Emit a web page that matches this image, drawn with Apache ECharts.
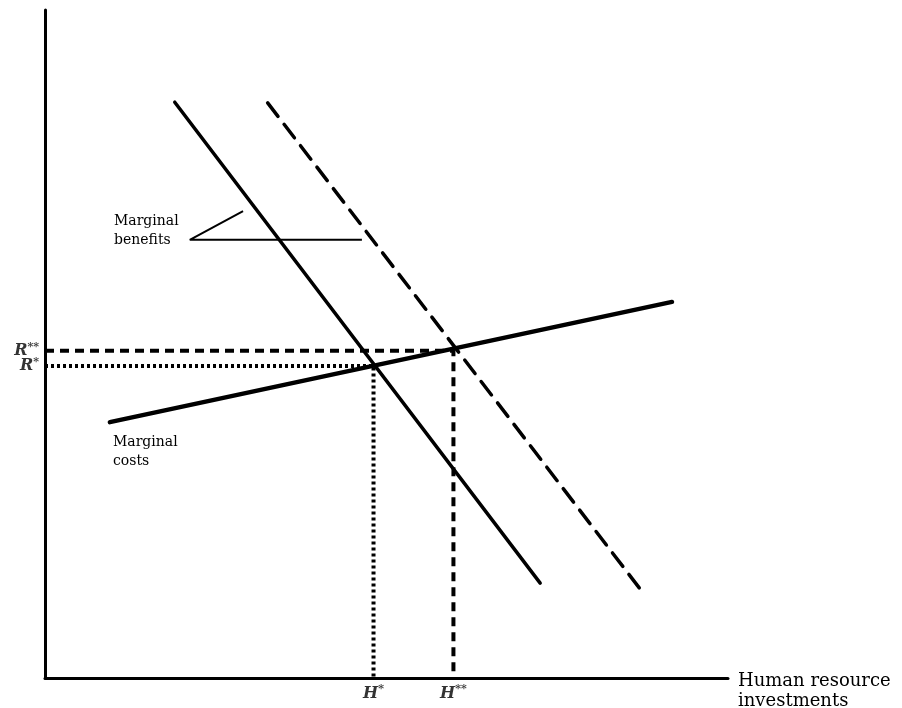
<!DOCTYPE html>
<html>
<head>
<meta charset="utf-8">
<script src="https://cdn.jsdelivr.net/npm/echarts@6/dist/echarts.min.js"></script>
<style>html,body{margin:0;padding:0;background:#fff;}#c{width:902px;height:708px;}</style>
</head>
<body>
<div id="c"></div>
<script>
// Data (chart units: both axes 0..100)
const marginalBenefits = [[19.0, 86.2], [72.5, 14.2]];
const marginalBenefitsShifted = [[32.6, 86.1], [87.6, 12.7]];
const marginalCosts = [[9.5, 38.3], [91.8, 56.3]];
const hStar = 48.1, hStarStar = 59.8;
const rStar = 46.7, rStarStar = 49.0;
const pointerA = [[29.0, 69.9], [21.2, 65.6], [46.4, 65.6]];
const xTickLabels = ['H*', 'H**'];
const yTickLabels = ['R*', 'R**'];

const FONT = 'DejaVu Serif';
const richTick = {
  m: { fontFamily: FONT, fontStyle: 'italic', fontWeight: 'bold', fontSize: 16, color: '#000' },
  s: { fontFamily: FONT, fontWeight: 'bold', fontSize: 11, color: '#000', padding: [0, 0, 8, 0] }
};
function tickText(t) {
  return '{m|' + t[0] + '}{s|' + t.slice(1) + '}';
}

const chart = echarts.init(document.getElementById('c'));
const option = {
  animation: false,
  backgroundColor: '#fff',
  grid: { left: 45, right: 174, top: 10, bottom: 30 },
  xAxis: {
    type: 'value', min: 0, max: 100,
    axisLine: { show: true, lineStyle: { color: '#000', width: 3 } },
    axisTick: { show: false }, axisLabel: { show: false }, splitLine: { show: false }
  },
  yAxis: {
    type: 'value', min: 0, max: 100,
    axisLine: { show: true, lineStyle: { color: '#000', width: 3 } },
    axisTick: { show: false }, axisLabel: { show: false }, splitLine: { show: false }
  },
  series: [
    { type: 'line', data: marginalBenefits, symbol: 'none',
      lineStyle: { color: '#000', width: 3.5, cap: 'round' } },
    { type: 'line', data: marginalBenefitsShifted, symbol: 'none',
      lineStyle: { color: '#000', width: 3.5, type: [17, 10], cap: 'round' } },
    { type: 'line', data: marginalCosts, symbol: 'none',
      lineStyle: { color: '#000', width: 4.5, cap: 'round' } },
    { type: 'line', data: [[0, rStarStar], [hStarStar, rStarStar], [hStarStar, 0]], symbol: 'none',
      lineStyle: { color: '#000', width: 4, type: [9, 6] } },
    { type: 'line', data: [[0, rStar], [hStar, rStar], [hStar, 0]], symbol: 'none',
      lineStyle: { color: '#000', width: 4, type: [3, 3] } },
    { type: 'line', data: pointerA, symbol: 'none',
      lineStyle: { color: '#000', width: 2 } },
    { type: 'scatter', symbolSize: 0, silent: true,
      data: [[hStar, 0, xTickLabels[0]], [hStarStar, 0, xTickLabels[1]]],
      label: { show: true, position: 'bottom', distance: 6, color: '#000',
        formatter: p => tickText(p.data[2]), rich: richTick } },
    { type: 'scatter', symbolSize: 0, silent: true,
      data: [[0, rStar, yTickLabels[0]], [0, rStarStar, yTickLabels[1]]],
      label: { show: true, position: 'left', distance: 6, color: '#000',
        formatter: p => tickText(p.data[2]), rich: richTick } }
  ],
  graphic: [
    { type: 'text', left: 738, top: 671,
      style: { text: 'Human resource\ninvestments', font: '18px "DejaVu Serif"', fill: '#000', lineHeight: 20 } },
    { type: 'text', left: 114, top: 212,
      style: { text: 'Marginal\nbenefits', font: '14px "DejaVu Serif"', fill: '#000', lineHeight: 19 } },
    { type: 'text', left: 113, top: 433,
      style: { text: 'Marginal\ncosts', font: '14px "DejaVu Serif"', fill: '#000', lineHeight: 19 } }
  ]
};
chart.setOption(option);
</script>
</body>
</html>
